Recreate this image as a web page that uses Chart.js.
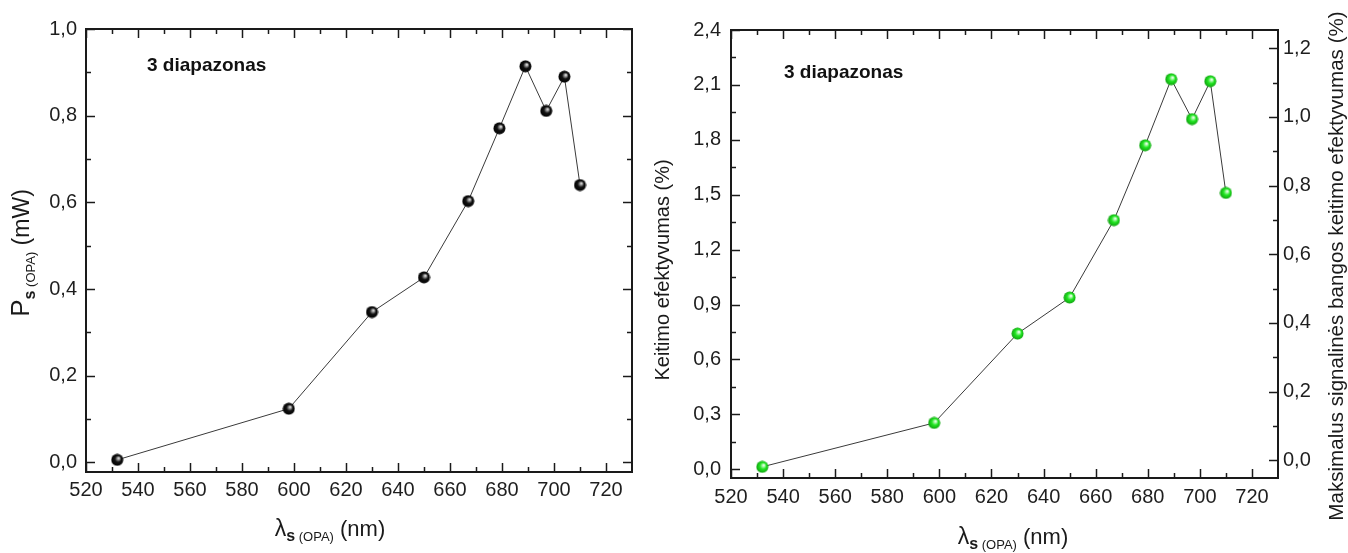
<!DOCTYPE html>
<html>
<head>
<meta charset="utf-8">
<script src="https://cdn.jsdelivr.net/npm/chart.js@4.4.1/dist/chart.umd.min.js"></script>
<style>
    body { margin: 0; background: #fff; }
    #wrapA { position: absolute; left: 0; top: 0; width: 660px; height: 553px; }
    #wrapB { position: absolute; left: 640px; top: 0; width: 708px; height: 553px; }
</style>
</head>
<body>
<div id="wrapA"><canvas id="chartA"></canvas></div>
<div id="wrapB"><canvas id="chartB"></canvas></div>
<script>
// ── Datos ─────────────────────────────────────────────────────────────────
var lambdaA = [532, 598, 630, 650, 667, 679, 689, 697, 704, 710];
var powerA  = [0.006, 0.124, 0.347, 0.427, 0.603, 0.771, 0.914, 0.811, 0.890, 0.640];

var lambdaB = [532, 598, 630, 650, 667, 679, 689, 697, 704, 710];
var effB    = [0.013, 0.253, 0.741, 0.938, 1.361, 1.770, 2.131, 1.913, 2.120, 1.510];

var xTicks   = [520, 540, 560, 580, 600, 620, 640, 660, 680, 700, 720];
var yTicksA  = [0, 0.2, 0.4, 0.6, 0.8, 1.0];
var yTicksB  = [0, 0.3, 0.6, 0.9, 1.2, 1.5, 1.8, 2.1, 2.4];
var y2TicksB = [0, 0.2, 0.4, 0.6, 0.8, 1.0, 1.2];

var FONT = "'Liberation Sans', Arial, sans-serif";

// ── Marcadores esféricos ──────────────────────────────────────────────────
function sphere(c0, c1, c2) {
    var c = document.createElement('canvas');
    c.width = 13; c.height = 13;
    var g = c.getContext('2d');
    var grad = g.createRadialGradient(8, 4.8, 0.5, 6.5, 6.5, 6.5);
    grad.addColorStop(0, c0);
    grad.addColorStop(0.45, c1);
    grad.addColorStop(1, c2);
    g.fillStyle = grad;
    g.beginPath(); g.arc(6.5, 6.5, 6, 0, Math.PI * 2); g.fill();
    return c;
}
var blackBall = sphere('#d8d8d8', '#111', '#000');
var greenBall = sphere('#eaffea', '#22e622', '#0e9a0e');

function pts(xs, ys) {
    return xs.map(function (x, i) { return { x: x, y: ys[i] }; });
}
function fmt1(v) { return v.toFixed(1).replace('.', ','); }
function mids(arr, max) {
    var out = [];
    for (var i = 0; i < arr.length; i++) {
        var next = i < arr.length - 1 ? arr[i + 1] : arr[i] + (arr[1] - arr[0]);
        var m = (arr[i] + next) / 2;
        if (m < max) out.push(m);
    }
    return out;
}
function fixTicks(arr) {
    return function (scale) { scale.ticks = arr.map(function (v) { return { value: v }; }); };
}

// ── Texto con subíndices ──────────────────────────────────────────────────
function rich(ctx, segs, x, y, rot) {
    ctx.save();
    ctx.translate(x, y);
    ctx.rotate(rot || 0);
    ctx.textBaseline = 'alphabetic';
    ctx.fillStyle = '#1a1a1a';
    var w = 0;
    segs.forEach(function (s) {
        ctx.font = (s.bold ? 'bold ' : '') + s.size + 'px ' + FONT;
        s.w = ctx.measureText(s.t).width;
        w += s.w;
    });
    var cx = -w / 2;
    segs.forEach(function (s) {
        ctx.font = (s.bold ? 'bold ' : '') + s.size + 'px ' + FONT;
        ctx.fillText(s.t, cx, s.dy || 0);
        cx += s.w;
    });
    ctx.restore();
}

// ── Plugin: marco, ticks interiores y rótulos ─────────────────────────────
var deco = {
    id: 'deco',
    afterDraw: function (chart, args, o) {
        var ctx = chart.ctx, a = chart.chartArea;
        ctx.save();
        ctx.strokeStyle = '#1a1a1a';
        ctx.lineWidth = 1.5;
        (o.marks || []).forEach(function (m) {
            var sc = chart.scales[m.scale];
            [[m.major, 9], [m.minor, 5]].forEach(function (pair) {
                pair[0].forEach(function (v) {
                    var p = Math.round(sc.getPixelForValue(v)) + 0.5;
                    m.sides.forEach(function (side) {
                        ctx.beginPath();
                        if (side === 'bottom') { ctx.moveTo(p, a.bottom); ctx.lineTo(p, a.bottom - pair[1]); }
                        if (side === 'top')    { ctx.moveTo(p, a.top);    ctx.lineTo(p, a.top + pair[1]); }
                        if (side === 'left')   { ctx.moveTo(a.left, p);   ctx.lineTo(a.left + pair[1], p); }
                        if (side === 'right')  { ctx.moveTo(a.right, p);  ctx.lineTo(a.right - pair[1], p); }
                        ctx.stroke();
                    });
                });
            });
        });
        ctx.lineWidth = 2;
        ctx.strokeRect(a.left, a.top, a.right - a.left, a.bottom - a.top);

        if (o.note) {
            ctx.font = 'bold 19px ' + FONT;
            ctx.fillStyle = '#111';
            ctx.textBaseline = 'middle';
            ctx.fillText(o.note.t, o.note.x, o.note.y);
        }
        (o.titles || []).forEach(function (t) { rich(ctx, t.segs, t.x, t.y, t.rot); });
        ctx.restore();
    }
};

function xScale(pad, h) {
    return {
        type: 'linear', min: 520, max: 730,
        afterBuildTicks: fixTicks(xTicks),
        afterFit: function (s) { s.height = h; },
        grid: { display: false, drawTicks: false },
        border: { display: false },
        ticks: { padding: pad, color: '#1e1e1e', font: { family: FONT, size: 20 } }
    };
}
function yScale(min, max, arr, pos, pad, w) {
    return {
        type: 'linear', position: pos, min: min, max: max,
        afterBuildTicks: fixTicks(arr),
        afterFit: function (s) { s.width = w; },
        grid: { display: false, drawTicks: false },
        border: { display: false },
        ticks: { padding: pad, color: '#1e1e1e', font: { family: FONT, size: 20 }, callback: fmt1 }
    };
}

Chart.defaults.font.family = FONT;

// ── Gráfico izquierdo: potencia ───────────────────────────────────────────
new Chart(document.getElementById('chartA'), {
    type: 'scatter',
    data: {
        datasets: [{
            data: pts(lambdaA, powerA),
            showLine: true,
            borderColor: '#3a3a3a',
            borderWidth: 1,
            pointStyle: blackBall,
            pointRadius: 6
        }]
    },
    options: {
        responsive: true,
        maintainAspectRatio: false,
        animation: false,
        layout: { padding: { top: 29, right: 28, bottom: 0, left: 0 } },
        plugins: {
            legend: { display: false },
            tooltip: { enabled: false },
            deco: {
                marks: [
                    { scale: 'x', major: xTicks, minor: mids(xTicks, 730), sides: ['bottom', 'top'] },
                    { scale: 'y', major: yTicksA, minor: mids(yTicksA, 1.0), sides: ['left', 'right'] }
                ],
                note: { t: '3 diapazonas', x: 147, y: 66 },
                titles: [
                    { x: 29, y: 253, rot: -Math.PI / 2, segs: [
                        { t: 'P', size: 26 },
                        { t: 's', size: 16, bold: true, dy: 6 },
                        { t: ' (OPA)', size: 13, dy: 6 },
                        { t: ' (mW)', size: 23 }
                    ] },
                    { x: 330, y: 536, segs: [
                        { t: 'λ', size: 23 },
                        { t: 's', size: 16, bold: true, dy: 5 },
                        { t: ' (OPA)', size: 13, dy: 5 },
                        { t: ' (nm)', size: 22 }
                    ] }
                ]
            }
        },
        scales: {
            x: xScale(6, 81),
            y: yScale(-0.022, 1.0, yTicksA, 'left', 9, 86)
        }
    },
    plugins: [deco]
});

// ── Gráfico derecho: eficiencia de conversión ─────────────────────────────
new Chart(document.getElementById('chartB'), {
    type: 'scatter',
    data: {
        datasets: [{
            data: pts(lambdaB, effB),
            showLine: true,
            borderColor: '#3a3a3a',
            borderWidth: 1,
            pointStyle: greenBall,
            pointRadius: 6,
            yAxisID: 'y'
        }]
    },
    options: {
        responsive: true,
        maintainAspectRatio: false,
        animation: false,
        layout: { padding: { top: 30, right: 0, bottom: 0, left: 0 } },
        plugins: {
            legend: { display: false },
            tooltip: { enabled: false },
            deco: {
                marks: [
                    { scale: 'x', major: xTicks, minor: mids(xTicks, 730), sides: ['bottom', 'top'] },
                    { scale: 'y', major: yTicksB, minor: mids(yTicksB, 2.4), sides: ['left'] },
                    { scale: 'y2', major: y2TicksB, minor: mids(y2TicksB, 1.25), sides: ['right'] }
                ],
                note: { t: '3 diapazonas', x: 144, y: 73 },
                titles: [
                    { x: 29, y: 270, rot: -Math.PI / 2, segs: [
                        { t: 'Keitimo efektyvumas (%)', size: 20 }
                    ] },
                    { x: 703, y: 266, rot: -Math.PI / 2, segs: [
                        { t: 'Maksimalus signalinės bangos keitimo efektyvumas (%)', size: 20.6 }
                    ] },
                    { x: 373, y: 544, segs: [
                        { t: 'λ', size: 23 },
                        { t: 's', size: 16, bold: true, dy: 5 },
                        { t: ' (OPA)', size: 13, dy: 5 },
                        { t: ' (nm)', size: 22 }
                    ] }
                ]
            }
        },
        scales: {
            x: xScale(7, 75),
            y: yScale(-0.048, 2.4, yTicksB, 'left', 10, 91),
            y2: yScale(-0.0516, 1.2533, y2TicksB, 'right', 5, 70)
        }
    },
    plugins: [deco]
});
</script>
</body>
</html>
